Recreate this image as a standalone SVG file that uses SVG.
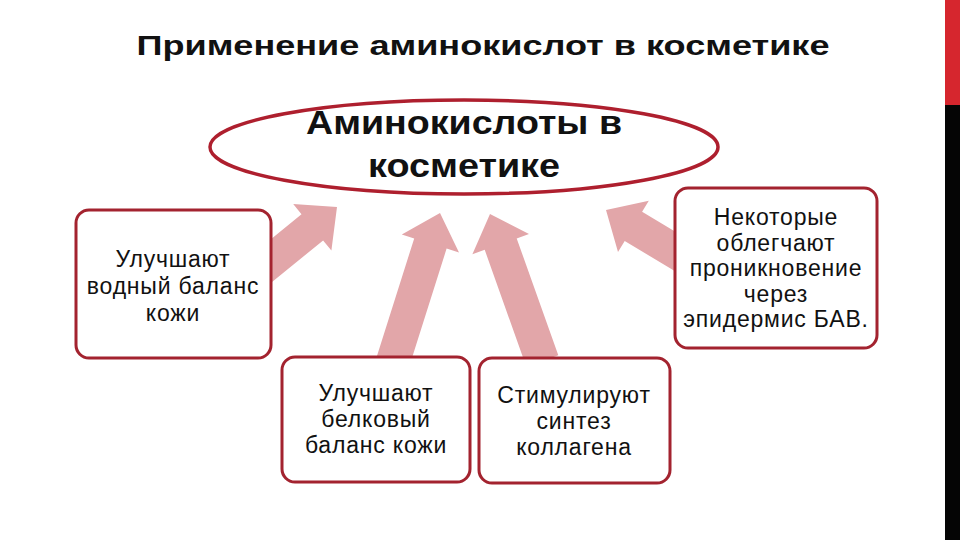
<svg xmlns="http://www.w3.org/2000/svg" width="960" height="540" viewBox="0 0 960 540">
  <style>
    .arrow { fill: #E2A6A9; stroke: none; }
    .box { fill: #FFFFFF; stroke: #A3232F; stroke-width: 3; }
    .lbl { font-family: "Liberation Sans", Arial, sans-serif; font-size: 23px; letter-spacing: 0.8px; fill: #111111; text-anchor: middle; }
    .hub { font-family: "Liberation Sans", Arial, sans-serif; font-size: 33px; font-weight: bold; fill: #111111; text-anchor: middle; }
    .title { font-family: "Liberation Sans", Arial, sans-serif; font-size: 28px; font-weight: bold; fill: #111111; text-anchor: middle; }
  </style>
  <rect x="0" y="0" width="960" height="540" fill="#FFFFFF"/>
  <rect x="945" y="0" width="15" height="105" fill="#D6262E"/>
  <rect x="945" y="105" width="15" height="435" fill="#050505"/>

  <text class="title" x="483" y="55" textLength="693" lengthAdjust="spacingAndGlyphs">Применение аминокислот в косметике</text>

  <g id="connectors">
    <polygon class="arrow" points="270.8,283.1 323.1,240.4 331.4,250.5 337,207 293.2,204.1 301.5,214.2 249.2,256.9"/>
    <polygon class="arrow" points="409.2,366.8 446.6,248.6 459,252.5 440,213 401.8,234.5 414.2,238.4 376.8,356.6"/>
    <polygon class="arrow" points="558.3,355.3 516.7,238.4 529,234 490,214 472.4,254.2 484.7,249.8 526.3,366.7"/>
    <polygon class="arrow" points="700.4,246.8 642.1,211.8 648.8,200.7 606,210 618,252.1 624.7,241 683,276"/>
  </g>

  <g id="hub">
    <ellipse cx="464" cy="147" rx="254" ry="47" fill="#FFFFFF" stroke="#AE1F2E" stroke-width="3.5"/>
    <text class="hub" x="464" y="134" textLength="316" lengthAdjust="spacingAndGlyphs">Аминокислоты в</text>
    <text class="hub" x="464" y="177" textLength="192" lengthAdjust="spacingAndGlyphs">косметике</text>
  </g>

  <g id="node-water">
    <rect class="box" x="76" y="210" width="195" height="148" rx="13"/>
    <text class="lbl" x="173" y="267">Улучшают</text>
    <text class="lbl" x="173" y="294">водный баланс</text>
    <text class="lbl" x="173" y="321">кожи</text>
  </g>

  <g id="node-penetration">
    <rect class="box" x="675" y="188" width="202" height="160" rx="13"/>
    <text class="lbl" x="776" y="225">Некоторые</text>
    <text class="lbl" x="776" y="250.5">облегчают</text>
    <text class="lbl" x="776" y="276">проникновение</text>
    <text class="lbl" x="776" y="301.5">через</text>
    <text class="lbl" x="776" y="327">эпидермис БАВ.</text>
  </g>

  <g id="node-protein">
    <rect class="box" x="282" y="357" width="188" height="125" rx="13"/>
    <text class="lbl" x="376" y="401">Улучшают</text>
    <text class="lbl" x="376" y="427">белковый</text>
    <text class="lbl" x="376" y="453">баланс кожи</text>
  </g>

  <g id="node-collagen">
    <rect class="box" x="479" y="358" width="191" height="125" rx="13"/>
    <text class="lbl" x="574" y="403">Стимулируют</text>
    <text class="lbl" x="574" y="429">синтез</text>
    <text class="lbl" x="574" y="455">коллагена</text>
  </g>
</svg>
